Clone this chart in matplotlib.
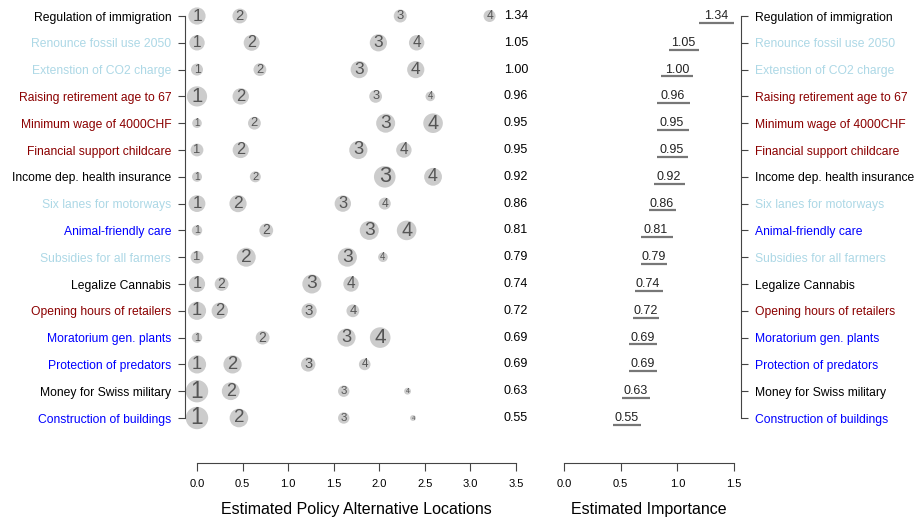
import numpy as np
import matplotlib
matplotlib.use('Agg')
import matplotlib.pyplot as plt

plt.rcParams['font.family'] = ['Liberation Sans', 'DejaVu Sans']

# policy proposals, top to bottom
policies = ["Regulation of immigration", "Renounce fossil use 2050", "Extenstion of CO2 charge",
            "Raising retirement age to 67", "Minimum wage of 4000CHF", "Financial support childcare",
            "Income dep. health insurance", "Six lanes for motorways", "Animal-friendly care",
            "Subsidies for all farmers", "Legalize Cannabis", "Opening hours of retailers",
            "Moratorium gen. plants", "Protection of predators", "Money for Swiss military",
            "Construction of buildings"]
label_colors = ["black", "lightblue", "lightblue", "darkred", "darkred", "darkred", "black",
                "lightblue", "blue", "lightblue", "black", "darkred", "blue", "blue", "black", "blue"]

# estimated importance + interval
importance = [1.34, 1.05, 1.00, 0.96, 0.95, 0.95, 0.92, 0.86, 0.81, 0.79, 0.74, 0.72, 0.69, 0.69, 0.63, 0.55]
ci_low = [1.19, 0.93, 0.86, 0.82, 0.82, 0.82, 0.79, 0.75, 0.68, 0.68, 0.63, 0.61, 0.57, 0.57, 0.51, 0.43]
ci_high = [1.51, 1.19, 1.14, 1.11, 1.10, 1.09, 1.07, 0.99, 0.96, 0.91, 0.87, 0.84, 0.82, 0.82, 0.76, 0.68]

# locations of the answer alternatives (alternative 1 is the reference at 0)
alt1_loc = [0.0] * 16
alt2_loc = [0.47, 0.60, 0.69, 0.48, 0.63, 0.48, 0.64, 0.45, 0.76, 0.54, 0.27, 0.25, 0.72, 0.39, 0.37, 0.46]
alt3_loc = [2.23, 1.99, 1.78, 1.96, 2.07, 1.77, 2.06, 1.60, 1.89, 1.65, 1.26, 1.23, 1.64, 1.22, 1.61, 1.61]
alt4_loc = [3.21, 2.41, 2.40, 2.56, 2.59, 2.27, 2.59, 2.06, 2.30, 2.04, 1.69, 1.71, 2.01, 1.84, 2.31, 2.37]

# relative weight of each alternative (bubble size)
alt1_w = [0.86, 0.77, 0.60, 1.01, 0.48, 0.64, 0.50, 0.84, 0.52, 0.64, 0.81, 0.91, 0.52, 0.91, 1.12, 1.12]
alt2_w = [0.74, 0.80, 0.64, 0.82, 0.64, 0.81, 0.55, 0.86, 0.69, 0.95, 0.69, 0.82, 0.69, 0.91, 0.89, 0.93]
alt3_w = [0.65, 0.86, 0.86, 0.64, 0.95, 0.91, 1.08, 0.82, 0.95, 0.95, 0.95, 0.76, 0.91, 0.72, 0.57, 0.57]
alt4_w = [0.60, 0.77, 0.86, 0.48, 0.98, 0.77, 0.89, 0.60, 0.98, 0.48, 0.77, 0.64, 1.03, 0.58, 0.34, 0.29]

W, H = 924, 521
fig = plt.figure(figsize=(W / 100, H / 100), dpi=100)
fig.patch.set_facecolor('white')

rows = np.arange(1, len(policies) + 1)
axcol = '#444444'

def px_box(x0, x1, y0, y1):
    return [x0 / W, 1 - y1 / H, (x1 - x0) / W, (y1 - y0) / H]

# ---- left panel: alternative locations ----
ax1 = fig.add_axes(px_box(197, 516, 2.6, 431.4))
ax1.set_xlim(0, 3.5)
ax1.set_ylim(16.5, 0.5)

locs = [alt1_loc, alt2_loc, alt3_loc, alt4_loc]
wts = [alt1_w, alt2_w, alt3_w, alt4_w]
for k in range(4):
    w = np.array(wts[k])
    ax1.scatter(locs[k], rows, s=(14.4 * w) ** 2, color='#cccccc', edgecolor='none', zorder=2, clip_on=False)
    for x, y, ww in zip(locs[k], rows, w):
        ax1.text(x, y, str(k + 1), ha='center', va='center', fontsize=14.5 * ww,
                 color='#555555', zorder=3, clip_on=False)

for y, v in zip(rows, importance):
    ax1.text(3.5, y, f"{v:.2f}", ha='center', va='center', fontsize=9, color='black')

for s in ['top', 'right']:
    ax1.spines[s].set_visible(False)
ax1.spines['left'].set_position(('outward', 8.6))
ax1.spines['left'].set_bounds(1, 16)
ax1.spines['bottom'].set_position(('outward', 23))
ax1.spines['bottom'].set_bounds(0, 3.5)
for s in ['left', 'bottom']:
    ax1.spines[s].set_color(axcol)
ax1.set_yticks(rows)
ax1.set_yticklabels(policies, fontsize=8.7)
for lab, c in zip(ax1.get_yticklabels(), label_colors):
    lab.set_color(c)
ax1.set_xticks(np.arange(0, 3.51, 0.5))
ax1.set_xticklabels([f"{t:.1f}" for t in np.arange(0, 3.51, 0.5)], fontsize=8)
ax1.tick_params(axis='y', length=5, pad=5, color=axcol)
ax1.tick_params(axis='x', length=5.4, pad=6, color=axcol)
ax1.set_xlabel("Estimated Policy Alternative Locations", fontsize=11.5, labelpad=9)

# ---- right panel: importance ----
ax2 = fig.add_axes(px_box(564, 734, 2.6, 431.4))
ax2.set_xlim(0, 1.5)
ax2.set_ylim(16.5, 0.5)

for y, v, lo, hi in zip(rows, importance, ci_low, ci_high):
    ax2.text(v, y, f"{v:.2f}", ha='center', va='center', fontsize=9, color='#222222')
    ax2.plot([lo, hi], [y + 0.25, y + 0.25], color='#777777', lw=1.6, solid_capstyle='butt')

for s in ['top', 'left']:
    ax2.spines[s].set_visible(False)
ax2.spines['right'].set_position(('outward', 5))
ax2.spines['right'].set_bounds(1, 16)
ax2.spines['bottom'].set_position(('outward', 23))
ax2.spines['bottom'].set_bounds(0, 1.5)
for s in ['right', 'bottom']:
    ax2.spines[s].set_color(axcol)
ax2.yaxis.tick_right()
ax2.set_yticks(rows)
ax2.set_yticklabels(policies, fontsize=8.7)
for lab, c in zip(ax2.get_yticklabels(), label_colors):
    lab.set_color(c)
ax2.set_xticks([0, 0.5, 1.0, 1.5])
ax2.set_xticklabels(["0.0", "0.5", "1.0", "1.5"], fontsize=8)
ax2.tick_params(axis='y', length=5, pad=5, color=axcol)
ax2.tick_params(axis='x', length=5.4, pad=6, color=axcol)
ax2.set_xlabel("Estimated Importance", fontsize=11.5, labelpad=9)

fig.savefig('out.png', dpi=100)
